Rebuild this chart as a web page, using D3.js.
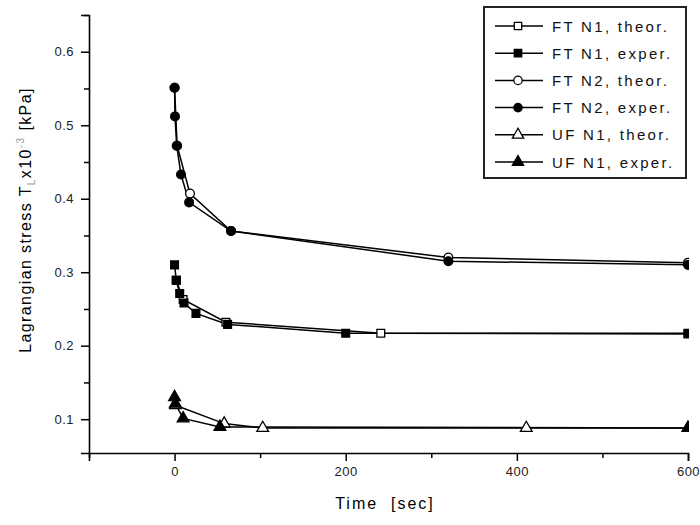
<!DOCTYPE html>
<html><head><meta charset="utf-8">
<script src="https://cdn.jsdelivr.net/npm/d3@7"></script>
<style>
body{margin:0;background:#fff;}
text{font-family:"Liberation Sans",Arial,sans-serif;}
</style></head>
<body><svg id="c" width="700" height="525"></svg>
<script>
const xTicks = [0, 200, 400, 600];
const xMinorTicks = [-100, 100, 300, 500];
const yTicks = [0.1, 0.2, 0.3, 0.4, 0.5, 0.6];
const yMinorTicks = [0.15, 0.25, 0.35, 0.45, 0.55, 0.65];

const ftn1Theor = [[2,0.289],[10,0.263],[60,0.232],[241,0.217],[600,0.216]];
const ftn1Exper = [[0,0.310],[2,0.289],[6,0.271],[11,0.258],[25,0.244],[62,0.229],[200,0.217],[600,0.217]];
const ftn2Theor = [[0,0.551],[3,0.472],[18,0.407],[66,0.356],[320,0.320],[600,0.313]];
const ftn2Exper = [[0,0.551],[0.5,0.512],[2.5,0.472],[7.5,0.433],[17,0.395],[66,0.356],[320,0.315],[600,0.310]];
const ufn1Theor = [[1,0.119],[58,0.094],[103,0.088],[411,0.088],[600,0.088]];
const ufn1Exper = [[0,0.130],[1,0.121],[10,0.101],[53,0.0895],[600,0.088]];

const seriesNames = ["FT N1, theor.","FT N1, exper.","FT N2, theor.","FT N2, exper.","UF N1, theor.","UF N1, exper."];
const seriesData = [ftn1Theor, ftn1Exper, ftn2Theor, ftn2Exper, ufn1Theor, ufn1Exper];
const seriesSymbols = ["square","square","circle","circle","triangle","triangle"];
const seriesFilled = [false,true,false,true,false,true];

const svg = d3.select("#c");
const x = d3.scaleLinear().domain([-100, 600]).range([89, 688]);
const y = d3.scaleLinear().domain([0.054, 0.65]).range([453, 15]);

svg.append("defs").append("clipPath").attr("id","clip")
  .append("rect").attr("x",89).attr("y",10).attr("width",600).attr("height",445);

// axes
const xAxis = svg.append("g").attr("transform","translate(0,453)");
xAxis.call(d3.axisBottom(x).tickValues(xTicks).tickSize(8).tickPadding(6).tickFormat(d3.format("d")));
const xMin = svg.append("g").attr("transform","translate(0,453)");
xMin.call(d3.axisBottom(x).tickValues(xMinorTicks).tickSize(5).tickFormat(""));
const yAxis = svg.append("g").attr("transform","translate(89,0)");
yAxis.call(d3.axisLeft(y).tickValues(yTicks).tickSize(8).tickPadding(7).tickFormat(d3.format(".1f")));
const yMin = svg.append("g").attr("transform","translate(89,0)");
yMin.call(d3.axisLeft(y).tickValues(yMinorTicks).tickSize(5).tickFormat(""));
svg.selectAll(".domain").attr("stroke","#000").attr("stroke-width",1.6);
svg.selectAll(".tick line").attr("stroke","#000").attr("stroke-width",1.5);
svg.selectAll(".tick text").attr("font-size",13).attr("fill","#222").attr("letter-spacing","0.5px")
   .attr("font-family","Liberation Sans, Arial, sans-serif");
xMin.select(".domain").remove(); yMin.select(".domain").remove();

// axis titles
svg.append("text").attr("x",385).attr("y",509).attr("text-anchor","middle")
  .attr("font-size",16).attr("letter-spacing","2px").attr("xml:space","preserve").text("Time  [sec]");
const yt = svg.append("text").attr("transform","translate(31,220) rotate(-90)")
  .attr("text-anchor","middle").attr("font-size",16).attr("letter-spacing","1.4px");
yt.append("tspan").text("Lagrangian stress T");
yt.append("tspan").attr("dy",4).attr("font-size",10).attr("fill","#999").text("L");
yt.append("tspan").attr("dy",-4).text("x10");
yt.append("tspan").attr("dy",-7).attr("font-size",10).attr("fill","#999").text("-3");
yt.append("tspan").attr("dy",7).text(" [kPa]");

function symbolPath(type, size){
  const s = type==="square"?d3.symbolSquare:type==="circle"?d3.symbolCircle:d3.symbolTriangle;
  return d3.symbol().type(s).size(size)();
}
const symSize = {square:60, circle:60, triangle:60};

const line = d3.line().x(d=>x(d[0])).y(d=>y(d[1]));
const plot = svg.append("g").attr("clip-path","url(#clip)");
seriesData.forEach((data,i)=>{
  plot.append("path").datum(data).attr("d",line).attr("fill","none")
    .attr("stroke","#000").attr("stroke-width",1.5);
});
seriesData.forEach((data,i)=>{
  plot.selectAll(null).data(data).enter().append("path")
    .attr("transform",d=>`translate(${x(d[0])},${y(d[1])})`)
    .attr("d",symbolPath(seriesSymbols[i], symSize[seriesSymbols[i]]))
    .attr("fill",seriesFilled[i]?"#000":"#fff").attr("stroke","#000").attr("stroke-width",1.3);
});

// legend
const lg = svg.append("g");
lg.append("rect").attr("x",484).attr("y",7).attr("width",202).attr("height",171)
  .attr("fill","#fff").attr("stroke","#222").attr("stroke-width",2);
seriesNames.forEach((n,i)=>{
  const cy = 26 + i*27.2;
  lg.append("line").attr("x1",495).attr("x2",543).attr("y1",cy).attr("y2",cy)
    .attr("stroke","#000").attr("stroke-width",1.5);
  lg.append("path").attr("transform",`translate(518,${cy})`)
    .attr("d",symbolPath(seriesSymbols[i],55))
    .attr("fill",seriesFilled[i]?"#000":"#fff").attr("stroke","#000").attr("stroke-width",1.3);
  lg.append("text").attr("x",552).attr("y",cy+5.5).attr("font-size",15)
    .attr("letter-spacing","2.3px").attr("fill","#111").text(n);
});
</script></body></html>
